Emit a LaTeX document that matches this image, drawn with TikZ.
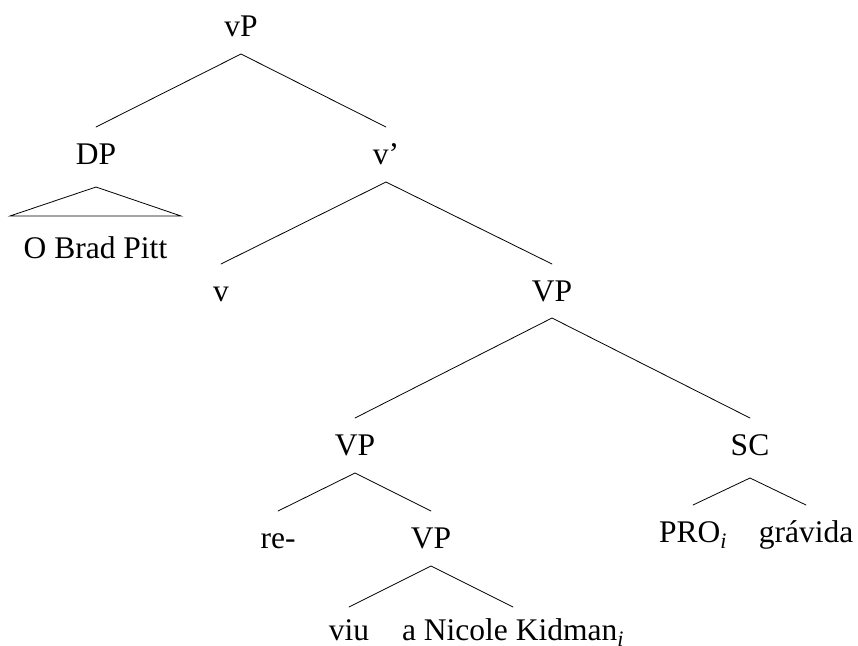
\documentclass[tikz,border=0pt]{standalone}
\usepackage{fontspec}
\setmainfont{Liberation Serif}
\begin{document}
\begin{tikzpicture}[x=1pt,y=-1pt,
  lbl/.style={anchor=base, inner sep=0pt, outer sep=0pt, font=\fontsize{31.5}{36}\selectfont},
  branch/.style={line width=0.8pt, line cap=round}]
\useasboundingbox (0,0) rectangle (858,645);
% labels, placed on their baselines
\node[lbl] (vP)   at (241,36)  {vP};
\node[lbl] (DP)   at (96,164)  {DP};
\node[lbl] (vbar) at (386,164) {v’};
\node[lbl] (OBP)  at (95.5,258) {O Brad Pitt};
\node[lbl] (v)    at (221,301) {v};
\node[lbl] (VPa)  at (552,301) {VP};
\node[lbl] (VPb)  at (355,455) {VP};
\node[lbl] (SC)   at (750,455) {SC};
\node[lbl] (re)   at (278,548) {re-};
\node[lbl] (VPc)  at (431,548) {VP};
\node[lbl] (PRO)  at (693,542) {PRO\textsubscript{\itshape i}};
\node[lbl] (grav) at (806,542) {grávida};
\node[lbl] (viu)  at (349,640) {viu};
\node[lbl] (NK)   at (513,640) {a Nicole Kidman\textsubscript{\itshape i}};
% branches
\draw[branch] ([yshift=37pt]DP.base) -- ([yshift=-18pt]vP.base) -- ([yshift=37pt]vbar.base);
\draw[branch] ([yshift=37pt]v.base) -- ([yshift=-18pt]vbar.base) -- ([yshift=37pt]VPa.base);
\draw[branch] ([yshift=37pt]VPb.base) -- ([yshift=-17pt]VPa.base) -- ([yshift=37pt]SC.base);
\draw[branch] ([yshift=37pt]re.base) -- ([yshift=-18pt]VPb.base) -- ([yshift=37pt]VPc.base);
\draw[branch] ([yshift=33pt]viu.base) -- ([yshift=-18pt]VPc.base) -- ([yshift=33pt]NK.base);
\draw[branch] ([yshift=37pt]PRO.base) -- ([yshift=-23pt]SC.base) -- ([yshift=37pt]grav.base);
% triangle over the unanalysed DP
\draw[branch, line join=miter] ([yshift=-23pt]DP.base) -- ([xshift=-86pt,yshift=-52pt]DP.base)
  -- ([xshift=85pt,yshift=-52pt]DP.base) -- cycle;
\end{tikzpicture}
\end{document}
